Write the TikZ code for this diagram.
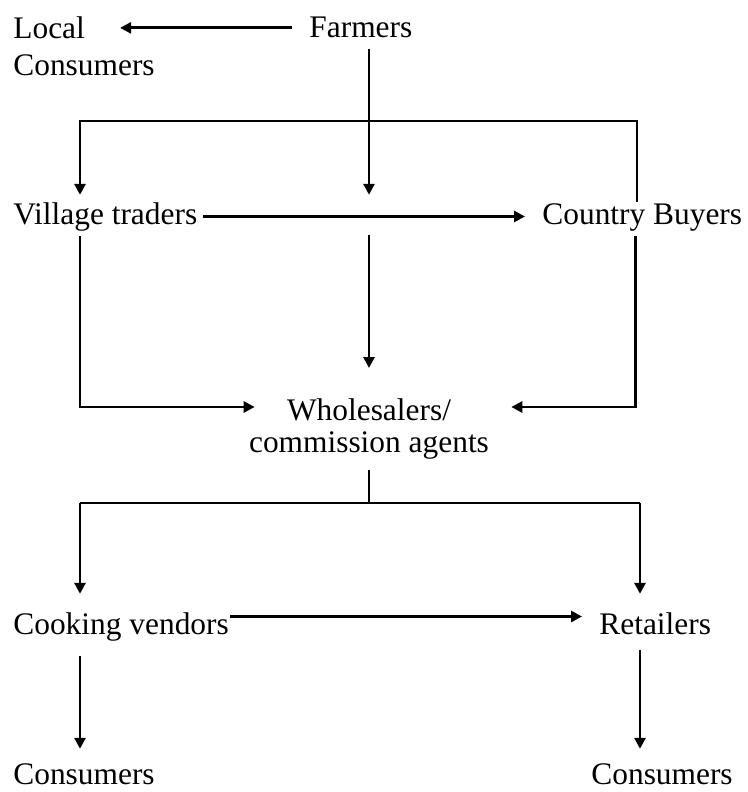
\documentclass[tikz,border=0pt]{standalone}
\usepackage{fontspec}
\setmainfont{Liberation Serif}
\usetikzlibrary{arrows.meta}

\begin{document}
\begin{tikzpicture}[x=0.5pt, y=-0.5pt,
                    line width=1.4pt,
                    every node/.style={inner sep=0pt, font=\fontsize{15.7}{18.5}\selectfont},
                    arr/.style={-{Triangle[length=5.5pt,width=5.5pt]}}]
  \useasboundingbox (0,0) rectangle (748,792);
  % actors
  \node[anchor=north west, align=left] (local) at (12,15) {Local\\Consumers};
  \node[anchor=base west] (farmers) at (308,38) {Farmers};
  \node[anchor=base west] (village) at (12,224) {Village traders};
  \node[anchor=base west] (cbuy) at (541,224) {Country Buyers};
  \node[anchor=north, align=center] (whole) at (369,397) {Wholesalers/\\[-2.5pt]commission agents};
  \node[anchor=base west] (cook) at (12,634) {Cooking vendors};
  \node[anchor=base west] (retail) at (598,634) {Retailers};
  \node[anchor=base west] (cons1) at (12,784) {Consumers};
  \node[anchor=base west] (cons2) at (590,784) {Consumers};
  % junctions
  \coordinate (j1) at (80,121);
  \coordinate (j2) at (637,121);
  \coordinate (m1) at (369,235);
  \coordinate (j3) at (369,503);
  \coordinate (j4) at (80,503);
  \coordinate (j5) at (640,503);
  % flows
  \draw[arr, shorten <=8pt, shorten >=-18pt] (farmers.west) -- (farmers.west -| local.east);
  \draw[arr, shorten <=4.5pt, shorten >=3pt] (farmers.south -| whole.north) -- (village.north -| whole.north);
  \draw[arr, shorten >=3pt] (cbuy.north -| j2) -- (j2) -- (j1) -- (j1 |- village.north);
  \draw[arr, shorten <=2pt, shorten >=8pt] (village.east) -- (village.east -| cbuy.west);
  \draw[arr, shorten >=14.5pt] (m1) -- (whole.north);
  \draw[arr, shorten <=2pt, shorten >=-3.5pt] (village.south -| j1) |- ([yshift=-5pt]whole.north west);
  \draw[arr, shorten <=2pt, shorten >=10.5pt] ([xshift=-3.5pt]cbuy.south) |- ([yshift=-5pt]whole.north east);
  \draw[shorten <=5pt] (whole.south) -- (j3);
  \draw (j4) -- (j5);
  \draw[arr, shorten >=8.5pt] (j4) -- (j4 |- cook.north);
  \draw[arr, shorten >=8.5pt] (j5) -- (j5 |- retail.north);
  \draw[arr, shorten >=8pt] ([yshift=5pt]cook.east) -- ([yshift=5pt]cook.east -| retail.west);
  \draw[arr, shorten <=7pt, shorten >=6.5pt] (cook.south -| j4) -- (cons1.north -| j4);
  \draw[arr, shorten <=7pt, shorten >=6.5pt] (retail.south -| j5) -- (cons2.north -| j5);
\end{tikzpicture}
\end{document}
